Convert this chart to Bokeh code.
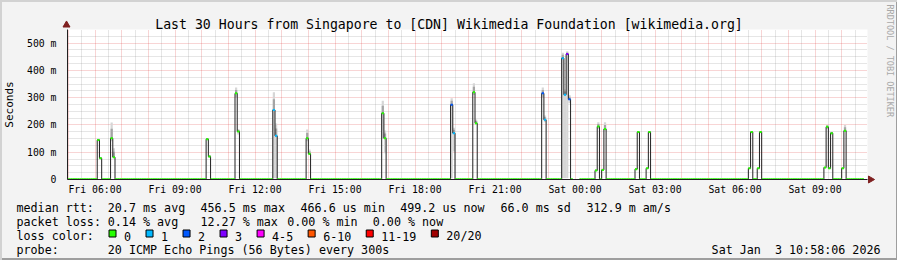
import numpy as np
import pandas as pd
from bokeh.plotting import figure
from bokeh.models import FixedTicker, ColumnDataSource
from bokeh.core.properties import value
from bokeh.embed import file_html
from bokeh.resources import INLINE

# ---------------- data ----------------
title_text = "Last 30 Hours from Singapore to [CDN] Wikimedia Foundation [wikimedia.org]"
start_time = "2026-01-02 04:58:06"
end_time = "2026-01-03 10:58:06"
first_step = "2026-01-02 04:55"
last_step = "2026-01-03 10:45"
baseline_ms = 0.5  # median rtt between the spikes (~0.5 ms)

spike_times = [
    "2026-01-02 06:05", "2026-01-02 06:10", "2026-01-02 06:35", "2026-01-02 06:40",
    "2026-01-02 10:10", "2026-01-02 10:15", "2026-01-02 11:15", "2026-01-02 11:20",
    "2026-01-02 12:40", "2026-01-02 12:45", "2026-01-02 13:55", "2026-01-02 14:00",
    "2026-01-02 16:45", "2026-01-02 16:50", "2026-01-02 19:20", "2026-01-02 19:25",
    "2026-01-02 20:10", "2026-01-02 20:15", "2026-01-02 22:45", "2026-01-02 22:50",
    "2026-01-02 23:30", "2026-01-02 23:35", "2026-01-02 23:40", "2026-01-02 23:45",
    "2026-01-03 00:45", "2026-01-03 00:50", "2026-01-03 01:00", "2026-01-03 01:05",
    "2026-01-03 02:15", "2026-01-03 02:20", "2026-01-03 02:40", "2026-01-03 02:45",
    "2026-01-03 06:30", "2026-01-03 06:35", "2026-01-03 06:50", "2026-01-03 06:55",
    "2026-01-03 09:20", "2026-01-03 09:25", "2026-01-03 09:30", "2026-01-03 09:35",
    "2026-01-03 10:00", "2026-01-03 10:05",
]
spike_median = [
    145, 78, 151, 82,
    148, 84, 316, 176,
    255, 160, 151, 94,
    243, 151, 274, 170,
    320, 206, 316, 219,
    445, 311, 460, 294,
    33, 194, 35, 185,
    38, 174, 41, 174,
    41, 174, 41, 174,
    44, 193, 41, 170,
    41, 179,
]
spike_smoke_hi = [
    150, 82, 209, 115,
    152, 90, 337, 185,
    320, 205, 183, 110,
    289, 180, 298, 190,
    353, 220, 337, 235,
    465, 330, 470, 310,
    38, 210, 40, 210,
    40, 178, 43, 178,
    43, 178, 43, 178,
    46, 200, 43, 175,
    43, 200,
]
spike_smoke_lo = [
    140, 74, 140, 78,
    144, 80, 300, 165,
    5, 5, 140, 90,
    150, 96, 5, 103,
    310, 200, 300, 210,
    5, 5, 5, 280,
    30, 185, 32, 180,
    35, 170, 38, 170,
    38, 170, 38, 170,
    40, 185, 38, 165,
    38, 175,
]
spike_loss = [
    0, 0, 0, 0,
    0, 0, 0, 0,
    1, 1, 0, 0,
    0, 0, 2, 1,
    0, 0, 2, 1,
    1, 1, 3, 2,
    0, 0, 0, 0,
    0, 0, 0, 0,
    0, 0, 0, 0,
    0, 0, 0, 0,
    0, 0,
]
missing_times = ["2026-01-02 23:55", "2026-01-03 00:00", "2026-01-03 00:05"]

y_ticks = [0, 100, 200, 300, 400, 500]
y_tick_labels = ["0", "100 m", "200 m", "300 m", "400 m", "500 m"]
x_tick_times = ["2026-01-02 06:00", "2026-01-02 09:00", "2026-01-02 12:00", "2026-01-02 15:00",
                "2026-01-02 18:00", "2026-01-02 21:00", "2026-01-03 00:00", "2026-01-03 03:00",
                "2026-01-03 06:00", "2026-01-03 09:00"]
x_tick_labels = ["Fri 06:00", "Fri 09:00", "Fri 12:00", "Fri 15:00", "Fri 18:00",
                 "Fri 21:00", "Sat 00:00", "Sat 03:00", "Sat 06:00", "Sat 09:00"]

loss_labels = ["0", "1", "2", "3", "4-5", "6-10", "11-19", "20/20"]
loss_colors = ["#26ff00", "#00b8ff", "#0059ff", "#7e00ff", "#ff00ff", "#ff5500", "#ff0000", "#a00000"]

rtt_items = ["median rtt:", "20.7 ms avg", "456.5 ms max", "466.6 us min", "499.2 us now",
             "66.0 ms sd", "312.9 m am/s"]
loss_items = ["packet loss:", "0.14 % avg", "12.27 % max", "0.00 % min", "0.00 % now"]
probe_items = ["probe:", "20 ICMP Echo Pings (56 Bytes) every 300s"]
loss_color_title = "loss color:"
date_text = "Sat Jan\u00a0 3 10:58:06 2026"
watermark = "RRDTOOL / TOBI OETIKER"

# ---------------- helpers ----------------
def ms(s):
    return pd.Timestamp(s).value // 10**6

STEP = 300_000
FONT = "DejaVu Sans Mono"
W, H = 897, 260
FL, FB = 66, 179          # plot area left / bottom edge in page pixels
ABS = {"position": "absolute", "left": "0px", "top": "0px"}

steps = pd.date_range(first_step, last_step, freq="5min")
t = np.array([ts.value // 10**6 for ts in steps], dtype=np.int64)
n = len(t)
pos = {int(v): i for i, v in enumerate(t)}
med = np.full(n, baseline_ms, dtype=float)
loss = np.zeros(n, dtype=int)
for s, m, l in zip(spike_times, spike_median, spike_loss):
    i = pos[ms(s)]
    med[i] = m
    loss[i] = l
for s in missing_times:
    med[pos[ms(s)]] = np.nan

# ---------------- main chart ----------------
p = figure(x_axis_type="datetime", x_range=(ms(start_time), ms(end_time)), y_range=(0, 550),
           frame_width=800, frame_height=150,
           min_border_left=FL, min_border_right=W - FL - 800, min_border_top=FB - 150,
           min_border_bottom=H - FB,
           toolbar_location=None, output_backend="svg",
           background_fill_color="white", border_fill_color=None, outline_line_color=None)
p.title.visible = False
p.styles = dict(ABS, **{"background-color": "#f3f3f3",
                        "box-shadow": "inset 2px 2px 0 0 #d2d2d2, inset -2px -2px 0 0 #9e9e9e"})

hours = [ts.value // 10**6 for ts in pd.date_range("2026-01-02 05:00", "2026-01-03 10:00", freq="h")]
halves = [h + 1_800_000 for h in hours]
p.xgrid.ticker = FixedTicker(ticks=hours, minor_ticks=halves)
p.ygrid.ticker = FixedTicker(ticks=y_ticks, minor_ticks=[v for v in range(25, 551, 25) if v % 100])
for g in (p.xgrid, p.ygrid):
    g.grid_line_color = "#de3030"
    g.grid_line_alpha = 0.4
    g.grid_line_dash = "1 1"
    g.minor_grid_line_color = "#8f8f8f"
    g.minor_grid_line_alpha = 0.45
    g.minor_grid_line_dash = "1 1"

p.xaxis.ticker = FixedTicker(ticks=[ms(s) for s in x_tick_times])
p.xaxis.major_label_overrides = {ms(s): lab for s, lab in zip(x_tick_times, x_tick_labels)}
p.yaxis.ticker = FixedTicker(ticks=y_ticks)
p.yaxis.major_label_overrides = dict(zip(y_ticks, y_tick_labels))
p.yaxis.axis_label = "Seconds"
for ax in (p.xaxis, p.yaxis):
    ax.axis_line_color = "#202020"
    ax.major_tick_line_color = None
    ax.minor_tick_line_color = None
    ax.major_tick_out = 0
    ax.major_tick_in = 0
    ax.minor_tick_out = 0
    ax.minor_tick_in = 0
    ax.major_label_text_font = FONT
    ax.major_label_text_font_size = "9.8px"
    ax.major_label_text_color = "black"
    ax.axis_label_text_font = FONT
    ax.axis_label_text_font_size = "11px"
    ax.axis_label_text_font_style = "normal"
    ax.axis_label_text_color = "black"
p.xaxis.major_label_standoff = 4
p.yaxis.major_label_standoff = 11
p.yaxis.axis_label_standoff = 8

# smoke
st = np.array([ms(s) for s in spike_times], dtype=np.int64)
hi = np.array(spike_smoke_hi, dtype=float)
lo = np.array(spike_smoke_lo, dtype=float)
md = np.array(spike_median, dtype=float)
p.quad(left=st, right=st + STEP, bottom=lo, top=hi, fill_color="#d6d6d6", line_color=None)
p.quad(left=st, right=st + STEP, bottom=md, top=md + 0.6 * (hi - md), fill_color="#a4a4a4", line_color=None)

# median line (stair steps)
lx, ly = [], []
for i in range(n):
    if np.isnan(med[i]):
        lx.append(np.nan); ly.append(np.nan)
    else:
        lx += [float(t[i]), float(t[i] + STEP)]
        ly += [med[i], med[i]]
p.line(lx, ly, line_color="#202020", line_width=1)

# loss-coloured median pieces
ok = ~np.isnan(med)
p.segment(x0=t[ok], x1=t[ok] + STEP, y0=med[ok], y1=med[ok],
          line_color=[loss_colors[k] for k in loss[ok]], line_width=2)

# ---------------- overlay page layer (title, legend, watermark, arrows) ----------------
o = figure(width=W, height=H, x_range=(0, W), y_range=(H, 0),
           x_axis_location=None, y_axis_location=None, min_border=0,
           toolbar_location=None, output_backend="svg",
           background_fill_color=None, border_fill_color=None, outline_line_color=None)
o.title.visible = False
o.xgrid.visible = False
o.ygrid.visible = False
o.styles = dict(ABS)

def texts(xs, ys, strs, size, align="left", baseline="alphabetic", color="black", angle=0.0, font=FONT):
    src = ColumnDataSource(dict(x=list(xs), y=list(ys), text=list(strs)))
    o.text(x="x", y="y", text="text", source=src, text_font=value(font),
           text_font_size=value(size), text_align=value(align), text_baseline=value(baseline),
           text_color=color, angle=angle)

texts([448.5], [24], [title_text], "13.2px", align="center")
texts([889], [4], [watermark], "8.5px", baseline="middle", color="#a8a8a8", angle=-np.pi / 2)

CW = 7.02  # legend character width
row_y = [207.7, 221.6, 235.5, 249.4]
rtt_x = [16, 107.3, 200, 300, 399.7, 500, 586]
texts(rtt_x, [row_y[0]] * len(rtt_items), rtt_items, "11.7px")
loss_x = [16, 107.3, 200, 286.7, 372.3]
texts(loss_x, [row_y[1]] * len(loss_items), loss_items, "11.7px")
sq_x = []
sq = 108.5
for lab in loss_labels:
    sq_x.append(sq)
    sq += 30 + CW * len(lab)
texts([16] + [x + 15 for x in sq_x], [row_y[2]] * (1 + len(loss_labels)),
      [loss_color_title] + loss_labels, "11.7px")
o.quad(left=sq_x, right=[x + 7 for x in sq_x], top=[229.5] * len(sq_x), bottom=[236.5] * len(sq_x),
       fill_color=loss_colors, line_color="black", line_width=1)
probe_x = [16, 107.3]
texts(probe_x, [row_y[3]] * 2, probe_items, "11.7px")
texts([880], [row_y[3]], [date_text], "11.7px", align="right")

# axis arrows
o.scatter(x=[FL], y=[24.5], marker="triangle", size=7, fill_color="#7f2020", line_color="#7f2020")
o.scatter(x=[FL + 800 + 4], y=[FB], marker="triangle", size=7, angle=-np.pi / 2,
          fill_color="#7f2020", line_color="#7f2020")

open("out.html", "w").write(file_html([p, o], INLINE))
